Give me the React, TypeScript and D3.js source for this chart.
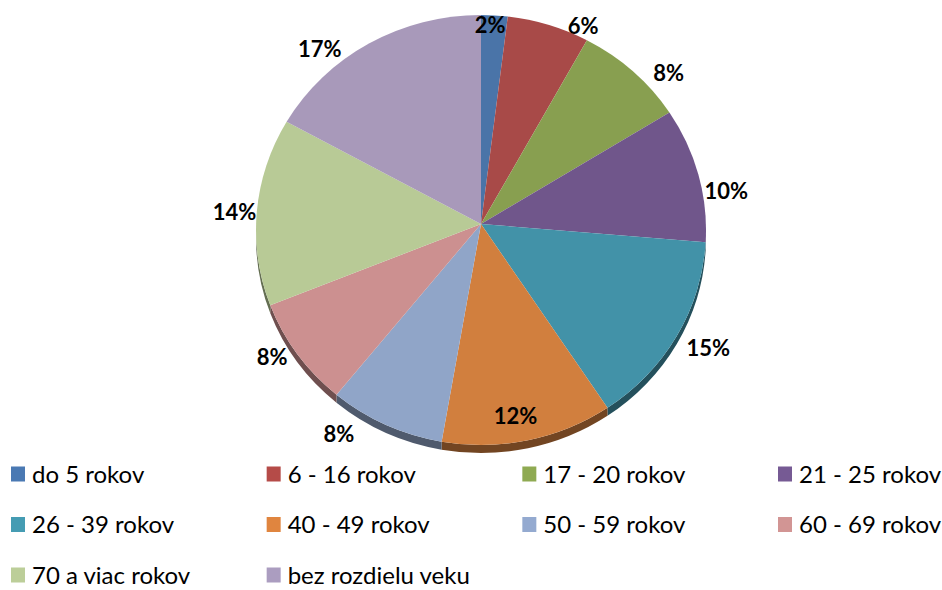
import React from "react";
import * as d3 from "d3";

const categories = [
  "do 5 rokov",
  "6 - 16 rokov",
  "17 - 20 rokov",
  "21 - 25 rokov",
  "26 - 39 rokov",
  "40 - 49 rokov",
  "50 - 59 rokov",
  "60 - 69 rokov",
  "70 a viac rokov",
  "bez rozdielu veku",
];
const values = [1.9, 5.9, 8.0, 10.1, 14.6, 12.3, 8.3, 8.2, 14.1, 16.6];
const colors = [
  "#4A74A8", "#A84A48", "#889F50", "#70568B", "#4292A8",
  "#D17F3E", "#90A5C8", "#CC9090", "#B8CA96", "#A899BA",
];
const legendColors = [
  "#4A79B3", "#B54B48", "#8FAA52", "#765A94", "#459CB3",
  "#E0853F", "#94AAD0", "#D29594", "#BCCE99", "#AB9DC0",
];
// label placement (degrees clockwise from 12 o'clock, radius factor)
const labelAngles = [2.6, 27.3, 51.2, 82.4, 118.6, 169.8, 214.1, 237.5, 272.8, 317.3];
const labelRadii = [0.885, 0.99, 1.07, 1.1, 1.15, 0.867, 1.127, 1.1, 1.097, 1.056];

const W = 942;
const H = 590;
const cx = 481;
const cy = 230;
const rx = 225;
const ry = 215;
const ax = 481;
const ay = 224;
const depth = 8;

function pt(a: number, dy = 0): [number, number] {
  return [cx + rx * Math.sin(a), cy - ry * Math.cos(a) + dy];
}

export default function App() {
  const pie = d3
    .pie<number>()
    .sort(null)
    .value((d) => d)
    .startAngle(0)
    .endAngle(2 * Math.PI);
  const arcs = pie(values);

  const tops = arcs.map((a) => {
    const [x0, y0] = pt(a.startAngle);
    const [x1, y1] = pt(a.endAngle);
    const large = a.endAngle - a.startAngle > Math.PI ? 1 : 0;
    return `M${ax},${ay}L${x0},${y0}A${rx},${ry} 0 ${large} 1 ${x1},${y1}Z`;
  });

  const sides = arcs.map((a) => {
    const s0 = Math.max(a.startAngle, Math.PI / 2);
    const s1 = Math.min(a.endAngle, (3 * Math.PI) / 2);
    if (s0 >= s1) return null;
    const [x0, y0] = pt(s0);
    const [x1, y1] = pt(s1);
    const [x2, y2] = pt(s1, depth);
    const [x3, y3] = pt(s0, depth);
    return `M${x0},${y0}A${rx},${ry} 0 0 1 ${x1},${y1}L${x2},${y2}A${rx},${ry} 0 0 0 ${x3},${y3}Z`;
  });

  const colX = d3.scalePoint<number>().domain([0, 1, 2, 3]).range([11, 778]);
  const rowY = d3.scalePoint<number>().domain([0, 1, 2]).range([474, 575]);

  return (
    <svg
      width={W}
      height={H}
      style={{ position: "absolute", left: 0, top: 0, background: "#fff" }}
      fontFamily="Lato, 'Open Sans', sans-serif"
    >
      <g>
        {sides.map((d, i) =>
          d ? (
            <path key={"s" + i} d={d} fill={d3.color(colors[i])!.darker(1.7).toString()} />
          ) : null
        )}
        {tops.map((d, i) => (
          <path key={"t" + i} d={d} fill={colors[i]} />
        ))}
      </g>
      <g fontWeight="bold" fontSize={22} fill="#000" textAnchor="middle">
        {values.map((v, i) => {
          const a = (labelAngles[i] * Math.PI) / 180;
          const r = 225 * labelRadii[i];
          const x = ax + r * Math.sin(a);
          const y = ay - r * Math.cos(a);
          return (
            <text key={"l" + i} x={x} y={y} dy="0.36em">
              {Math.round(v) + "%"}
            </text>
          );
        })}
      </g>
      <g fontSize={24} fill="#000">
        {categories.map((c, i) => {
          const col = i % 4;
          const row = Math.floor(i / 4);
          const x = colX(col)!;
          const y = rowY(row)!;
          return (
            <g key={"g" + i}>
              <rect x={x} y={y - 7.5} width={14} height={15} fill={legendColors[i]} />
              <text x={x + 21} y={y} dy="0.36em">
                {c}
              </text>
            </g>
          );
        })}
      </g>
    </svg>
  );
}
